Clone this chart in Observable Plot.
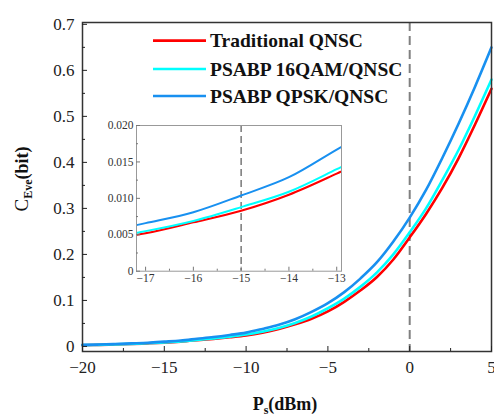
<!DOCTYPE html>
<html><head><meta charset="utf-8">
<script src="https://cdn.jsdelivr.net/npm/d3@7"></script>
<script src="https://cdn.jsdelivr.net/npm/@observablehq/plot@0.6"></script>
<style>
html,body{margin:0;padding:0;background:#fff;}
#chart{position:relative;width:494px;height:415px;overflow:hidden;background:#fff;}
#chart svg{position:absolute;}
</style></head><body><div id="chart"></div>
<script>
// ---- data ----
const powerDbm = [-20,-19,-18,-17,-16,-15,-14,-13,-12,-11,-10,-9,-8,-7,-6,-5,-4,-3,-2,-1,0,1,2,3,4,5];
const traditionalQNSC = [0.0026,0.0033,0.0042,0.0052,0.0067,0.0083,0.0105,0.0134,0.0165,0.020,0.024,0.030,0.038,0.048,0.060,0.076,0.097,0.122,0.151,0.189,0.237,0.288,0.345,0.410,0.483,0.560];
const psabp16QAM = [0.0028,0.0035,0.0044,0.0055,0.0069,0.0088,0.0109,0.0140,0.0173,0.021,0.026,0.032,0.040,0.051,0.065,0.083,0.104,0.130,0.161,0.200,0.248,0.300,0.362,0.428,0.502,0.580];
const psabpQPSK = [0.0033,0.0041,0.0052,0.0066,0.0081,0.0104,0.0129,0.0167,0.0205,0.025,0.030,0.038,0.047,0.059,0.075,0.094,0.118,0.148,0.183,0.228,0.280,0.340,0.410,0.485,0.565,0.650];
const seriesNames = ["Traditional QNSC", "PSABP 16QAM/QNSC", "PSABP QPSK/QNSC"];
const seriesColors = ["#ff0000", "#00ffff", "#1890f0"];
const xTicksMain = [-20, -15, -10, -5, 0, 5];
const xMinorMain = [-17.5, -12.5, -7.5, -2.5, 2.5];
const yTicksMain = [0, 0.1, 0.2, 0.3, 0.4, 0.5, 0.6, 0.7];
const yMinorMain = [0.05, 0.15, 0.25, 0.35, 0.45, 0.55, 0.65];
const xTicksInset = [-17, -16, -15, -14, -13];
const xMinorInset = [-16.5, -15.5, -14.5, -13.5];
const yTicksInset = [0, 0.005, 0.010, 0.015, 0.020];
const yMinorInset = [0.0025, 0.0075, 0.0125, 0.0175];
const markerMain = [0];
const markerInset = [-15];

// ---- table ----
const seriesValues = [traditionalQNSC, psabp16QAM, psabpQPSK];
const rows = powerDbm.map((p, i) => ({p, s0: seriesValues[0][i], s1: seriesValues[1][i], s2: seriesValues[2][i]}));
const minus = d => d < 0 ? "\u2212" + Math.abs(d) : String(d);
const FONT = "'Liberation Serif', 'Times New Roman', serif";

const lineMarks = (w, clip) => [0, 1, 2].map(k =>
  Plot.line(rows, {x: "p", y: "s" + k, stroke: seriesColors[k], strokeWidth: w, curve: "monotone-x", clip}));

// ---- main plot ----
const main = Plot.plot({
  width: 494, height: 415,
  marginLeft: 82, marginRight: 3, marginTop: 22, marginBottom: 64,
  style: {fontFamily: FONT, fontSize: "17px", color: "#222", background: "transparent", overflow: "visible"},
  x: {domain: [-20, 5], label: null},
  y: {domain: [-0.011, 0.704], label: null},
  marks: [
    Plot.ruleX(markerMain, {stroke: "#808080", strokeWidth: 2, strokeDasharray: "9,5"}),
    ...lineMarks(2.6, false),
    Plot.frame({stroke: "#333", strokeWidth: 1.5}),
    Plot.axisX(xTicksMain, {tickSize: 0, tickPadding: 9, tickFormat: minus, label: null}),
    Plot.axisX(xTicksMain, {tickSize: -5, tickFormat: () => "", label: null}),
    Plot.axisX(xMinorMain, {tickSize: -3, tickFormat: () => "", label: null}),
    Plot.axisY(yTicksMain, {tickSize: 0, tickPadding: 8, tickFormat: d => d === 0 ? "0" : d.toFixed(1), label: null}),
    Plot.axisY(yTicksMain, {tickSize: -5, tickFormat: () => "", label: null}),
    Plot.axisY(yMinorMain, {tickSize: -3, tickFormat: () => "", label: null})
  ]
});
main.style.left = "0px"; main.style.top = "0px";
document.getElementById("chart").appendChild(main);

// ---- inset plot ----
const inset = Plot.plot({
  width: 255, height: 171,
  marginLeft: 40, marginRight: 10, marginTop: 5, marginBottom: 20.3,
  style: {fontFamily: FONT, fontSize: "11.5px", color: "#333", background: "transparent", overflow: "visible"},
  x: {domain: [-17.19, -12.9], label: null},
  y: {domain: [0, 0.02], label: null},
  marks: [
    Plot.ruleX(markerInset, {stroke: "#808080", strokeWidth: 1.6, strokeDasharray: "7,4"}),
    ...lineMarks(2, true),
    Plot.frame({stroke: "#999", strokeWidth: 1}),
    Plot.axisX(xTicksInset, {tickSize: 0, tickPadding: 3, tickFormat: minus, label: null}),
    Plot.axisX(xTicksInset, {tickSize: -4, tickFormat: () => "", label: null, stroke: "#777"}),
    Plot.axisX(xMinorInset, {tickSize: -2, tickFormat: () => "", label: null, stroke: "#777"}),
    Plot.axisY(yTicksInset, {tickSize: 0, tickPadding: 3, tickFormat: d => d === 0 ? "0" : d.toFixed(3), label: null}),
    Plot.axisY(yTicksInset, {tickSize: -4, tickFormat: () => "", label: null, stroke: "#777"}),
    Plot.axisY(yMinorInset, {tickSize: -2, tickFormat: () => "", label: null, stroke: "#777"})
  ]
});
inset.style.left = "96px"; inset.style.top = "120px";
document.getElementById("chart").appendChild(inset);

// ---- titles and legend ----
const svg = d3.select(main);
const yt = svg.append("text")
  .attr("transform", "translate(28,179) rotate(-90)")
  .attr("text-anchor", "middle").style("font-family", FONT).attr("fill", "#111");
yt.append("tspan").attr("font-size", 19).text("C");
yt.append("tspan").attr("font-size", 12).attr("font-weight", "bold").attr("dy", 4).text("Eve");
yt.append("tspan").attr("font-size", 18).attr("font-weight", "bold").attr("dy", -4).text("(bit)");

const xt = svg.append("text")
  .attr("x", 285).attr("y", 410)
  .attr("text-anchor", "middle").style("font-family", FONT).attr("font-weight", "bold").attr("fill", "#111");
xt.append("tspan").attr("font-size", 18).text("P");
xt.append("tspan").attr("font-size", 12).attr("dy", 4).text("s");
xt.append("tspan").attr("font-size", 18).attr("dy", -4).text("(dBm)");

const legendY = [40.7, 69, 96];
const lg = svg.append("g").attr("text-anchor", "start");
seriesNames.forEach((name, k) => {
  lg.append("line").attr("x1", 153).attr("x2", 206).attr("y1", legendY[k]).attr("y2", legendY[k])
    .attr("stroke", seriesColors[k]).attr("stroke-width", 2.7);
  lg.append("text").attr("x", 210).attr("y", legendY[k] + 6.5).attr("text-anchor", "start")
    .style("font-family", FONT).attr("font-size", 19.5).attr("font-weight", "bold").attr("fill", "#111")
    .text(name);
});
d3.selectAll("#chart svg text").style("font-family", FONT);
</script></body></html>
